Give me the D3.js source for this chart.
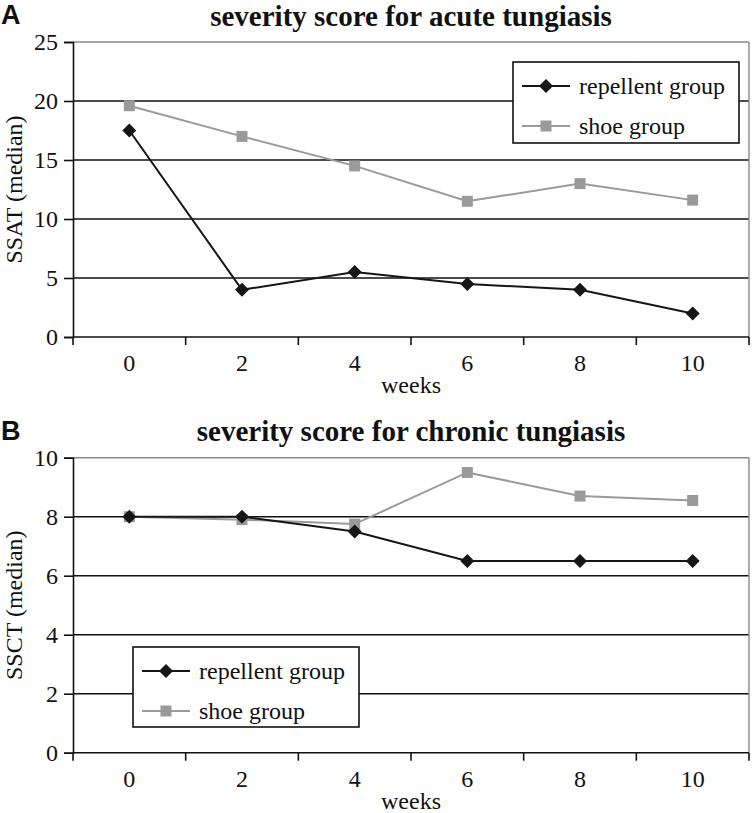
<!DOCTYPE html>
<html>
<head>
<meta charset="utf-8">
<script src="https://cdn.jsdelivr.net/npm/d3@7"></script>
<style>
  html, body { margin: 0; padding: 0; background: #fff; }
  svg { display: block; }
  svg text { font-family: "Liberation Serif", "Times New Roman", "DejaVu Serif", serif; fill: #111; }
  svg text.sans { font-family: "Liberation Sans", Arial, sans-serif; }
</style>
</head>
<body>
<svg id="chart" width="752" height="813"></svg>
<script>
// ---- data ----
const weeks = ["0", "2", "4", "6", "8", "10"];
const acuteRepellent = [17.5, 4, 5.5, 4.5, 4, 2];
const acuteShoe = [19.6, 17, 14.5, 11.5, 13, 11.6];
const chronicRepellent = [8, 8, 7.5, 6.5, 6.5, 6.5];
const chronicShoe = [8, 7.9, 7.75, 9.5, 8.7, 8.55];
const acuteTicks = [0, 5, 10, 15, 20, 25];
const chronicTicks = [0, 2, 4, 6, 8, 10];
const seriesNames = ["repellent group", "shoe group"];

const SERIF = "Liberation Serif";
const svg = d3.select("#chart");
const left = 73, right = 749;
const repColor = "#161616", shoeColor = "#9a9a9a";

function serifText(sel) {
  return sel.attr("font-family", SERIF).style("font-family", SERIF);
}

function drawPanel(cfg) {
  const g = svg.append("g");
  const x = d3.scaleBand().domain(weeks).range([left, right]).padding(0);
  const y = d3.scaleLinear().domain([0, cfg.ticks[cfg.ticks.length - 1]]).range([cfg.bottom, cfg.top]);
  const cx = d => x(d) + x.bandwidth() / 2;

  // gridlines (interior)
  g.selectAll(".grid").data(cfg.ticks.slice(1, -1)).join("line")
    .attr("x1", left).attr("x2", right)
    .attr("y1", d => y(d)).attr("y2", d => y(d))
    .attr("stroke", "#111").attr("stroke-width", 1.4);

  // top & right border (grey)
  const yMax = y(cfg.ticks[cfg.ticks.length - 1]);
  g.append("line").attr("x1", left).attr("x2", right).attr("y1", yMax).attr("y2", yMax)
    .attr("stroke", "#8a8a8a").attr("stroke-width", 1.4);
  g.append("line").attr("x1", right).attr("x2", right).attr("y1", cfg.top).attr("y2", cfg.bottom)
    .attr("stroke", "#8a8a8a").attr("stroke-width", 1.4);

  // y axis
  const yAxis = d3.axisLeft(y).tickValues(cfg.ticks).tickSize(9).tickPadding(6).tickFormat(d3.format("d"));
  const ya = g.append("g").attr("transform", `translate(${left},0)`).call(yAxis);
  ya.attr("font-family", SERIF);
  ya.select(".domain").attr("stroke", "#111").attr("stroke-width", 1.6);
  ya.selectAll(".tick line").attr("stroke", "#111").attr("stroke-width", 1.6);
  serifText(ya.selectAll(".tick text")).attr("font-size", 24).attr("fill", "#111").attr("dy", "0.33em");

  // x axis: labels centered in bands, ticks at band edges
  const edges = weeks.map(w => x(w)).concat([right]);
  g.append("line").attr("x1", left).attr("x2", right).attr("y1", cfg.bottom).attr("y2", cfg.bottom)
    .attr("stroke", "#111").attr("stroke-width", 1.6);
  g.selectAll(".xt").data(edges).join("line")
    .attr("x1", d => d).attr("x2", d => d).attr("y1", cfg.bottom).attr("y2", cfg.bottom + 8)
    .attr("stroke", "#111").attr("stroke-width", 1.6);
  serifText(g.selectAll(".xl").data(weeks).join("text"))
    .attr("x", d => cx(d)).attr("y", cfg.bottom + 34)
    .attr("text-anchor", "middle").attr("font-size", 24).text(d => d);
  serifText(g.append("text")).attr("x", (left + right) / 2).attr("y", cfg.bottom + 56)
    .attr("text-anchor", "middle").attr("font-size", 24).text("weeks");

  // y label
  serifText(g.append("text")).attr("transform", `translate(22,${(cfg.top + cfg.bottom) / 2}) rotate(-90)`)
    .attr("text-anchor", "middle").attr("font-size", 24).text(cfg.ylabel);

  // title
  serifText(g.append("text")).attr("x", (left + right) / 2).attr("y", cfg.top - 16.5)
    .attr("text-anchor", "middle").attr("font-size", 29).attr("font-weight", "bold").text(cfg.title);

  // panel letter
  g.append("text").attr("class", "sans").attr("x", 1).attr("y", cfg.top - 18)
    .attr("font-weight", "bold").attr("font-size", 27).text(cfg.letter);

  const line = d3.line().x((d, i) => cx(weeks[i])).y(d => y(d));

  function drawSeries(vals, color, type) {
    g.append("path").datum(vals).attr("d", line).attr("fill", "none")
      .attr("stroke", color).attr("stroke-width", 2);
    if (type === "diamond") {
      g.selectAll(null).data(vals).join("path")
        .attr("d", "M0,-7L7,0L0,7L-7,0Z")
        .attr("transform", (d, i) => `translate(${cx(weeks[i])},${y(d)})`)
        .attr("fill", color);
    } else {
      g.selectAll(null).data(vals).join("rect")
        .attr("x", (d, i) => cx(weeks[i]) - 5.5).attr("y", d => y(d) - 5.5)
        .attr("width", 11).attr("height", 11).attr("fill", color);
    }
  }
  drawSeries(cfg.shoe, shoeColor, "square");
  drawSeries(cfg.rep, repColor, "diamond");

  // legend
  const L = cfg.legend;
  const lg = g.append("g");
  lg.append("rect").attr("x", L.x).attr("y", L.y).attr("width", L.w).attr("height", L.h)
    .attr("fill", "#fff").attr("stroke", "#111").attr("stroke-width", 1.6);
  const entries = [{ name: seriesNames[0], color: repColor, type: "diamond" },
                   { name: seriesNames[1], color: shoeColor, type: "square" }];
  entries.forEach((e, i) => {
    const ey = L.y + 24 + i * 40;
    const lx0 = L.x + 9, lx1 = L.x + 57, mx = (lx0 + lx1) / 2;
    lg.append("line").attr("x1", lx0).attr("x2", lx1).attr("y1", ey).attr("y2", ey)
      .attr("stroke", e.color).attr("stroke-width", 2);
    if (e.type === "diamond") {
      lg.append("path").attr("d", "M0,-7L7,0L0,7L-7,0Z").attr("transform", `translate(${mx},${ey})`).attr("fill", e.color);
    } else {
      lg.append("rect").attr("x", mx - 5.5).attr("y", ey - 5.5).attr("width", 11).attr("height", 11).attr("fill", e.color);
    }
    serifText(lg.append("text")).attr("x", L.x + 66).attr("y", ey + 8).attr("font-size", 24).text(e.name);
  });
}

drawPanel({
  top: 42, bottom: 337, ticks: acuteTicks, rep: acuteRepellent, shoe: acuteShoe,
  title: "severity score for acute tungiasis", letter: "A", ylabel: "SSAT (median)",
  legend: { x: 513, y: 62, w: 226, h: 81 }
});
drawPanel({
  top: 457.7, bottom: 752.7, ticks: chronicTicks, rep: chronicRepellent, shoe: chronicShoe,
  title: "severity score for chronic tungiasis", letter: "B", ylabel: "SSCT (median)",
  legend: { x: 133, y: 647, w: 226, h: 80 }
});
</script>
</body>
</html>
